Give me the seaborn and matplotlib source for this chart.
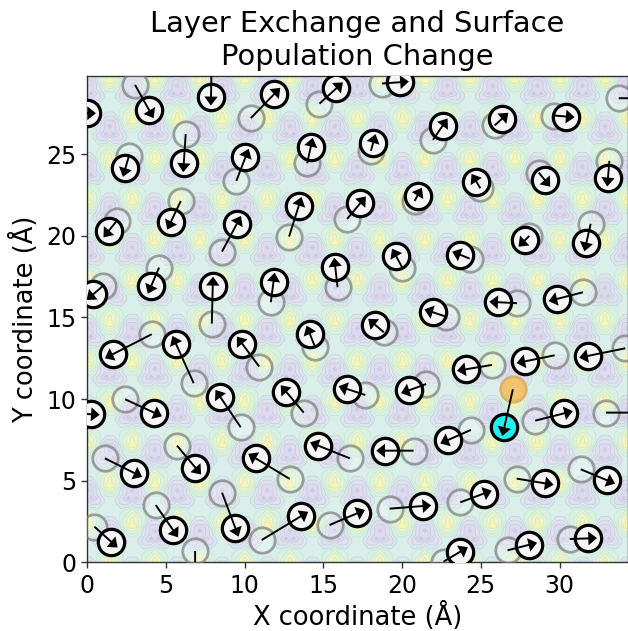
import numpy as np
import pandas as pd
import matplotlib
matplotlib.use('Agg')
import matplotlib.pyplot as plt
import seaborn as sns

# one row of the surface motif (contour level per grid cell),
# left half only: the right half mirrors it. Purple site at column 0, row 5
MOTIF_HALF = [
    [7, 6, 5, 5, 4, 4, 4],
    [6, 5, 5, 4, 4, 4, 4],
    [4, 3, 3, 3, 4, 4, 4],
    [3, 2, 2, 2, 3, 4, 4],
    [1, 0, 1, 2, 3, 4, 4],
    [1, 1, 2, 3, 4, 5, 5],
    [0, 1, 2, 3, 5, 6, 7],
    [1, 1, 2, 4, 6, 8, 8],
    [2, 2, 3, 5, 6, 7, 8],
    [3, 3, 4, 5, 6, 7, 8],
]
LATTICE_A = 2.86
ROW_H = 2.477
FIRST_ROW_Y = -0.79
BAND_COLORS = ['#d0cce4', '#dcdaec', '#dfe0ee', '#dbe8eb', '#dbefea', '#d9f0e4', '#e2f3da', '#eef5cc', '#f6f4b4']

# atom positions in Angstrom, new = black circles, old = grey circles
new_x = [7.86, 3.94, 11.87, 15.83, 0.0, 6.13, 2.42, 10.05, 14.20, 1.38, 5.32, 9.50, 13.44, 17.34, 4.07, 0.38, 7.97, 11.83, 15.75,
         19.88, 26.34, 30.41, 35.4, 22.57, 18.16, 24.71, 29.06, 33.08, 20.98, 27.79, 31.71, 19.63, 23.70, 26.09, 29.84, 21.94, 18.27,
         1.61, 5.64, 9.84, 14.14, 16.49, 4.24, 8.46, 12.65, 0.24, 14.67, 2.99, 6.87, 10.70, 5.45, 9.41, 13.56, 17.13, 1.51, 6.85,
         24.03, 27.81, 31.79, 20.45, 30.31, 22.93, 18.91, 29.08, 33.02, 25.18, 21.30, 23.70, 28.04, 31.83, 35.4]
new_y = [28.52, 27.67, 28.67, 29.03, 27.50, 24.44, 24.13, 24.81, 25.46, 20.32, 20.87, 20.73, 21.85, 21.99, 16.95, 16.42, 16.95, 17.19, 18.11,
         29.40, 27.16, 27.30, 28.42, 26.73, 25.69, 23.32, 23.42, 23.56, 22.46, 19.71, 19.58, 18.73, 18.83, 15.93, 16.13, 15.32, 14.56,
         12.74, 13.37, 13.39, 13.99, 10.62, 9.17, 10.11, 10.43, 9.07, 7.15, 5.47, 5.80, 6.37, 1.98, 2.09, 2.82, 3.00, 1.27, -1.2,
         11.82, 12.31, 12.64, 10.54, 9.13, 7.50, 6.84, 4.84, 5.03, 4.21, 3.45, 0.66, 1.07, 1.47, 9.17]
old_x = [7.9, 3.03, 10.39, 14.75, -0.54, 6.25, 2.65, 9.47, 13.97, 1.87, 5.94, 8.56, 12.82, 16.51, 4.56, 1.02, 7.91, 11.66, 15.90,
         18.72, 25.88, 29.67, 33.76, 21.96, 18.02, 24.97, 28.68, 33.17, 20.79, 28.08, 31.98, 20.01, 24.29, 27.30, 31.49, 22.78, 18.84,
         4.09, 6.76, 10.92, 14.47, 17.66, 2.40, 9.75, 13.75, -1.35, 16.68, 1.12, 5.70, 12.86, 4.35, 8.56, 11.08, 15.39, 0.45, 6.85,
         25.71, 29.69, 34.18, 21.53, 28.46, 24.37, 20.73, 27.28, 31.35, 23.70, 19.20, 22.64, 26.70, 30.65, 32.95]
old_y = [30.67, 29.24, 27.20, 28.09, 27.50, 26.22, 24.91, 23.36, 24.44, 20.91, 22.13, 19.03, 19.95, 21.03, 18.05, 16.95, 14.62, 15.93, 16.85,
         29.32, 26.75, 27.36, 28.42, 25.87, 25.20, 22.91, 23.87, 24.58, 22.13, 19.99, 20.73, 18.05, 18.60, 15.87, 16.54, 15.05, 14.09,
         13.97, 10.97, 11.99, 13.19, 10.25, 9.99, 8.27, 9.17, 9.17, 6.37, 6.37, 7.15, 5.11, 3.51, 4.27, 1.37, 2.29, 2.19, 0.70,
         12.09, 12.68, 13.11, 10.92, 8.68, 8.11, 6.84, 5.13, 5.70, 3.68, 3.29, 0.05, 0.74, 1.43, 9.17]

# the exchanging atom
swap_new = (26.49, 8.27)
swap_old = (27.04, 10.60)

x_ticks = [0, 5, 10, 15, 20, 25, 30]
y_ticks = [0, 5, 10, 15, 20, 25]


def surface_field(n_rows=14, n_cols=4):
    half = np.array(MOTIF_HALF, dtype=float)
    tile = np.hstack([half, half[:, -2:0:-1]])
    rows = [np.roll(tile, 6 * (k % 2), axis=1) for k in range(n_rows)]
    z = np.vstack(rows)
    z = np.hstack([z] * n_cols)
    z = np.hstack([z, z[:, :1]])
    xs = np.arange(z.shape[1]) * LATTICE_A / 12
    ys = FIRST_ROW_Y - ROW_H / 2 + np.arange(z.shape[0]) * ROW_H / 10
    return xs, ys, z


sns.set_style('ticks')
plt.rcParams['font.family'] = ['DejaVu Sans']
plt.rcParams['text.color'] = 'black'
plt.rcParams['axes.labelcolor'] = 'black'
plt.rcParams['xtick.labelcolor'] = 'black'
plt.rcParams['ytick.labelcolor'] = 'black'

fig = plt.figure(figsize=(6.28, 6.31), dpi=100)
ax = fig.add_axes([87.3 / 628, 1 - 562.4 / 631, (627.5 - 87.3) / 628, (562.4 - 76) / 631])

xs, ys, z = surface_field(n_cols=13)
ax.contourf(xs, ys, z, levels=np.arange(-0.5, 9), colors=BAND_COLORS)
ax.contour(xs, ys, z, levels=[0.5, 1.5, 2.5, 3.5], colors='#b9b6d8', linewidths=0.6, alpha=0.5)
ax.contour(xs, ys, z, levels=[4.5, 5.5, 6.5, 7.5], colors='#bfe5c6', linewidths=0.6, alpha=0.6)

new_atoms = pd.DataFrame({'x': new_x, 'y': new_y})
old_atoms = pd.DataFrame({'x': old_x, 'y': old_y})

sns.scatterplot(data=old_atoms, x='x', y='y', s=335, facecolor=(1, 1, 1, 0.2),
                edgecolor=(0.45, 0.45, 0.45, 0.65), linewidth=2.0, ax=ax, zorder=3, legend=False)
ax.scatter(*swap_old, s=335, facecolor='#f1c46e', edgecolor='#d9b26c', linewidth=2.0, zorder=3)
sns.scatterplot(data=new_atoms, x='x', y='y', s=360, facecolor='whitesmoke',
                edgecolor='black', linewidth=2.3, ax=ax, zorder=4, legend=False)
ax.scatter(*swap_new, s=360, facecolor='#1ff0f0', edgecolor='black', linewidth=2.3, zorder=4)

for x0, y0, x1, y1 in zip(old_x + [swap_old[0]], old_y + [swap_old[1]], new_x + [swap_new[0]], new_y + [swap_new[1]]):
    ax.arrow(x0, y0, x1 - x0, y1 - y0, width=0.12, head_width=0.85, head_length=0.55,
             length_includes_head=False, color='black', linewidth=0, zorder=5)

ax.set_xlim(0, 34.32)
ax.set_ylim(0, 29.78)
ax.set_xticks(x_ticks)
ax.set_yticks(y_ticks)
ax.tick_params(labelsize=17, length=4.5, width=1, color='#333333', pad=3.5)
ax.set_xlabel('X coordinate (Å)', fontsize=18.5, labelpad=3)
ax.set_ylabel('Y coordinate (Å)', fontsize=18.5, labelpad=5)
ax.set_title('Layer Exchange and Surface\nPopulation Change', fontsize=20.8, pad=8)
for side in ax.spines.values():
    side.set_linewidth(1)
    side.set_color('#333333')

fig.savefig('out.png', dpi=100)
